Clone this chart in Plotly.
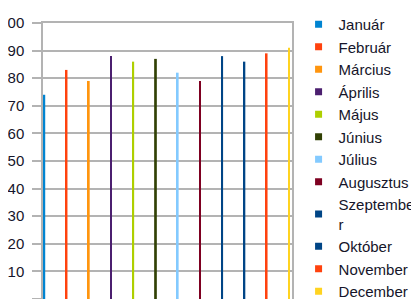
import plotly.graph_objects as go

months = ["Január", "Február", "Március", "Április", "Május", "Június",
          "Július", "Augusztus", "Szeptember", "Október", "November", "December"]
legend_labels = ["Január", "Február", "Március", "Április", "Május", "Június",
                 "Július", "Augusztus", "Szeptembe<br>r", "Október", "November", "December"]
values = [74, 83, 79, 88, 86, 87, 82, 79, 88, 86, 89, 91]
colors = ["#0084d1", "#ff420e", "#ff950e", "#4b1f6f", "#aecf00", "#314004",
          "#83caff", "#7e0021", "#004586", "#004586", "#ff420e", "#ffd320"]
y_ticks = [0, 10, 20, 30, 40, 50, 60, 70, 80, 90, 100]

FONT = "Liberation Sans"
TXT = "#15152a"
fig = go.Figure()
for i, m in enumerate(months):
    fig.add_trace(go.Bar(
        x=[m], y=[values[i]], name=m, legendgroup=m, showlegend=False,
        marker=dict(color=colors[i], line=dict(width=0)),
        width=0.12 if m == "Június" else 0.08,
    ))
for i, m in enumerate(months):
    fig.add_trace(go.Scatter(
        x=[None], y=[None], mode="markers", name=legend_labels[i], legendgroup=m,
        marker=dict(symbol="square", size=7, color=colors[i], line=dict(width=0)),
    ))

grid = "#b3b3b3"
fig.update_layout(
    width=411, height=291,
    margin=dict(l=35, r=127, t=15, b=0, autoexpand=False),
    paper_bgcolor="white", plot_bgcolor="white",
    barmode="overlay",
    font=dict(family=FONT, size=15, color=TXT),
    showlegend=True,
    legend=dict(
        xref="container", yref="container",
        x=0.707, y=1.028, xanchor="left", yanchor="top",
        traceorder="grouped", tracegroupgap=0,
        font=dict(family=FONT, size=15, color=TXT),
        bgcolor="rgba(0,0,0,0)", borderwidth=0,
        itemsizing="trace", maxheight=600,
    ),
    xaxis=dict(
        type="category", categoryorder="array", categoryarray=months,
        range=[-0.06, 11.14], showticklabels=False, ticks="",
        showgrid=False, showline=True, linecolor=grid, linewidth=1.5, mirror=True,
        zeroline=False, automargin=False,
    ),
    yaxis=dict(
        range=[0, 100], tickvals=y_ticks, ticks="outside", ticklen=9,
        tickcolor=grid, tickwidth=1.5,
        showgrid=True, gridcolor=grid, gridwidth=1.5,
        showline=True, linecolor=grid, linewidth=1.5, mirror=True,
        zeroline=False, automargin=False,
        tickfont=dict(family=FONT, size=15, color=TXT),
        ticklabelstandoff=5,
    ),
)
fig.write_html("out.html")
